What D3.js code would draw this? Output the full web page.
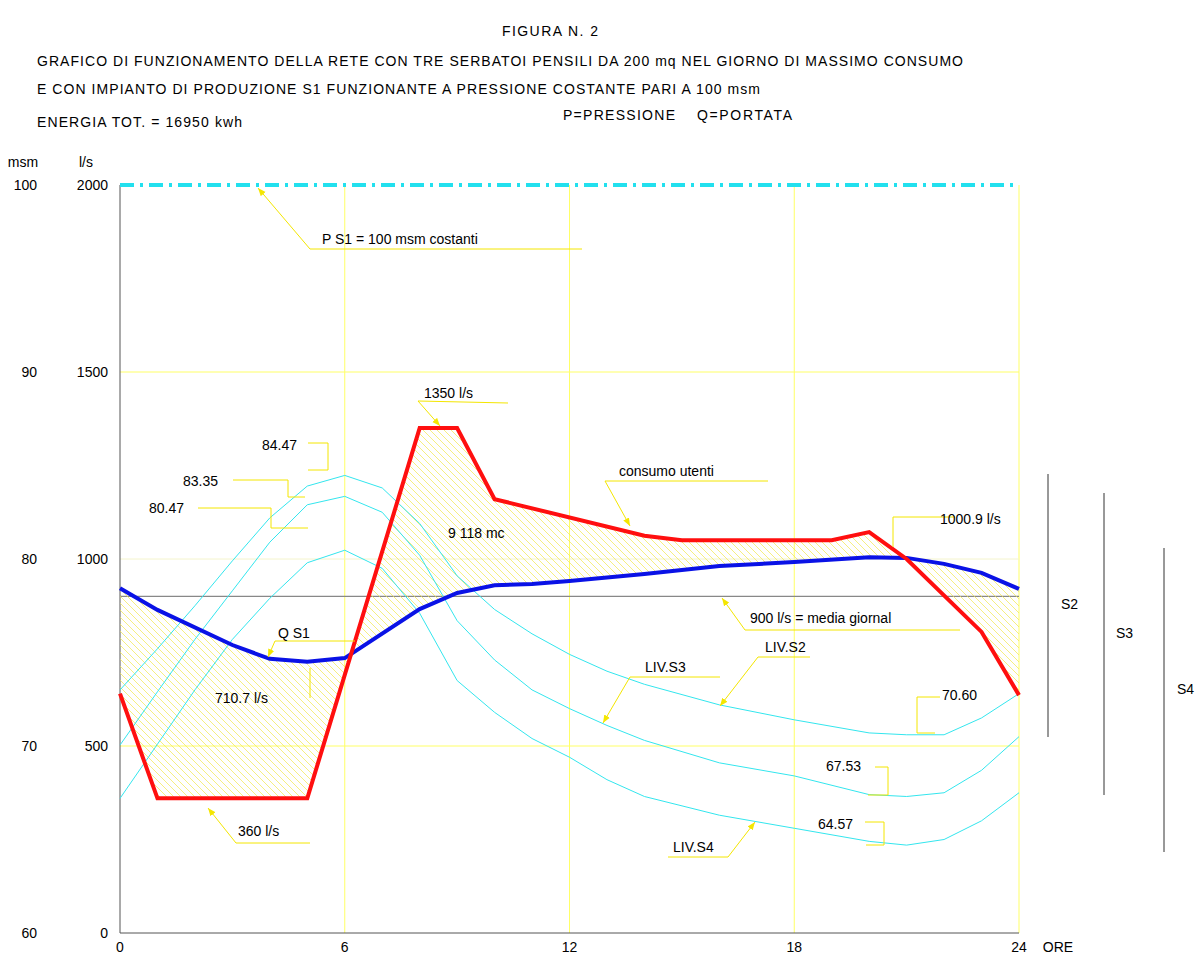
<!DOCTYPE html><html><head><meta charset="utf-8"><script src="https://cdn.jsdelivr.net/npm/d3@7"></script>
<style>body{margin:0;background:#fff}text{font-family:Arial,"Liberation Sans",sans-serif;font-size:14px}</style></head><body>
<svg id="c" width="1200" height="979"></svg>
<script>
const hoursRed=[0,1,5,8,9,10,14,15,19,20,21,23,24];
const consumo=[640,360,360,1350,1350,1160,1062,1050,1050,1072,1000,805,636];
const hoursQ=[0,1,3,4,5,6,8,9,10,11,12,14,16,18,20,21,22,23,24];
const qs1=[922,864,770,733,725,735,866,909,930,933,941,960,981,992,1005,1003,987,963,920];
const hoursL=[0,1,2,3,4,5,6,7,8,9,10,11,12,13,14,16,18,20,21,22,23,24];
const livS2=[73.0,75.2,77.5,79.9,82.2,83.9,84.47,83.8,81.9,79.1,77.3,76.0,74.9,74.0,73.3,72.2,71.4,70.7,70.6,70.6,71.5,72.8];
const livS3=[70.05,72.9,75.7,78.3,80.9,82.9,83.35,82.5,80.2,76.7,74.6,73.0,72.0,71.1,70.3,69.1,68.4,67.4,67.3,67.5,68.7,70.5];
const livS4=[67.2,70.1,73.0,75.7,77.9,79.8,80.47,79.5,77.1,73.5,71.8,70.4,69.4,68.2,67.3,66.3,65.6,64.9,64.7,65.0,66.0,67.5];
const xTicks=[0,6,12,18,24], qTicks=[0,500,1000,1500,2000], pTicks=[60,70,80,90,100];

const svg=d3.select("#c");
const x=d3.scaleLinear().domain([0,24]).range([120,1019]);
const yQ=d3.scaleLinear().domain([0,2000]).range([933,185]);
const yP=d3.scaleLinear().domain([60,100]).range([933,185]);
const defs=svg.append("defs");
const pat=defs.append("pattern").attr("id","h").attr("patternUnits","userSpaceOnUse").attr("width",7).attr("height",7);
pat.append("path").attr("d","M-1,-1L8,8M-8,0L0,8M0,-7L7,0").attr("stroke","#f2e84a").attr("stroke-width",0.7);
defs.append("marker").attr("id","ar").attr("viewBox","0 0 10 10").attr("refX",10).attr("refY",5).attr("markerWidth",8).attr("markerHeight",8).attr("orient","auto-start-reverse")
 .append("path").attr("d","M0,1L10,5L0,9z").attr("fill","#f4e600");

xTicks.slice(1).forEach(h=>svg.append("line").attr("x1",x(h)).attr("x2",x(h)).attr("y1",185).attr("y2",933).attr("stroke","#ffff66"));
[500,1500].forEach(v=>svg.append("line").attr("x1",120).attr("x2",1019).attr("y1",yQ(v)).attr("y2",yQ(v)).attr("stroke","#ffff66"));
svg.append("line").attr("x1",120).attr("x2",1019).attr("y1",yQ(1000)).attr("y2",yQ(1000)).attr("stroke","#f4f4cc");
svg.append("line").attr("x1",120).attr("x2",1019).attr("y1",yQ(900)).attr("y2",yQ(900)).attr("stroke","#888").attr("stroke-width",1.3);
svg.append("line").attr("x1",120).attr("x2",120).attr("y1",185).attr("y2",933).attr("stroke","#555");
svg.append("line").attr("x1",120).attr("x2",1019).attr("y1",933).attr("y2",933).attr("stroke","#555");

const fine=d3.range(0,24.001,0.05);
const ir=h=>{for(let i=0;i<hoursRed.length-1;i++)if(h>=hoursRed[i]&&h<=hoursRed[i+1]){const t=(h-hoursRed[i])/(hoursRed[i+1]-hoursRed[i]);return consumo[i]+t*(consumo[i+1]-consumo[i]);}return consumo[consumo.length-1];};
const iq=h=>{for(let i=0;i<hoursQ.length-1;i++)if(h>=hoursQ[i]&&h<=hoursQ[i+1]){const t=(h-hoursQ[i])/(hoursQ[i+1]-hoursQ[i]);return qs1[i]+t*(qs1[i+1]-qs1[i]);}return qs1[qs1.length-1];};
svg.append("path").attr("d",d3.area().x(h=>x(h)).y0(h=>yQ(iq(h))).y1(h=>yQ(ir(h)))(fine)).attr("fill","url(#h)");

const lp=d3.line().x((d,i)=>x(hoursL[i])).y(d=>yP(d));
[livS2,livS3,livS4].forEach(s=>svg.append("path").attr("d",lp(s)).attr("fill","none").attr("stroke","#33e6ee").attr("stroke-width",1));
svg.append("line").attr("x1",120).attr("x2",1019).attr("y1",yP(100)).attr("y2",yP(100)).attr("stroke","#22e0ee").attr("stroke-width",4).attr("stroke-dasharray","14,6,3,6");
svg.append("path").attr("d",d3.line().x((d,i)=>x(hoursQ[i])).y(d=>yQ(d))(qs1)).attr("fill","none").attr("stroke","#0a12e6").attr("stroke-width",4);
svg.append("path").attr("d",d3.line().x((d,i)=>x(hoursRed[i])).y(d=>yQ(d))(consumo)).attr("fill","none").attr("stroke","#ff0f0f").attr("stroke-width",4);

const T=(t,px,py,a)=>svg.append("text").attr("x",px).attr("y",py).attr("text-anchor",a||"start").text(t);
xTicks.forEach(h=>T(h,x(h),952,"middle"));
T("ORE",1058,952,"middle");
qTicks.forEach(v=>T(v,108,yQ(v)+5,"end"));
pTicks.forEach(v=>T(v,37,yP(v)+5,"end"));
T("msm",23,167,"middle");T("l/s",86,167,"middle");
T("FIGURA N. 2",550,36,"middle").attr("textLength",96);
T("GRAFICO DI FUNZIONAMENTO DELLA RETE CON TRE SERBATOI PENSILI DA 200 mq NEL GIORNO DI MASSIMO CONSUMO",37,66).attr("textLength",926);
T("E CON IMPIANTO DI PRODUZIONE S1 FUNZIONANTE A PRESSIONE COSTANTE PARI A 100 msm",37,94).attr("textLength",723);
T("ENERGIA TOT. = 16950 kwh",37,127).attr("textLength",205);
T("P=PRESSIONE",563,120).attr("textLength",112);
T("Q=PORTATA",697,120).attr("textLength",95);

const Y="#f4e600";
const L=(pts,arrow)=>{const p=svg.append("path").attr("d",d3.line()(pts)).attr("fill","none").attr("stroke",Y).attr("stroke-width",1);if(arrow)p.attr("marker-end","url(#ar)");};
L([[582,249],[310,249],[258,188]],true);T("P S1 = 100 msm costanti",322,244);
L([[508,403],[418,401],[440,426]],true);T("1350 l/s",424,398);
L([[768,481],[605,481],[630,526]],true);T("consumo utenti",619,476);
T("9 118 mc",448,538);
L([[955,517],[893,517],[893,547]],false);T("1000.9 l/s",940,524);
L([[960,630],[745,630],[722,598]],true);T("900 l/s = media giornal",750,623);
L([[355,641],[275,641],[268,657]],true);T("Q S1",278,638);
L([[310,698],[310,668]],false);T("710.7 l/s",215,703);
L([[310,843],[236,843],[208,808]],true);T("360 l/s",238,836);
L([[308,443],[328,443],[328,470],[308,470]],false);T("84.47",262,450);
L([[233,480],[288,480],[288,497],[305,497]],false);T("83.35",183,486);
L([[198,508],[271,508],[271,528],[308,528]],false);T("80.47",149,513);
L([[720,677],[630,677],[603,723]],true);T("LIV.S3",645,672);
L([[810,657],[758,657],[720,706]],true);T("LIV.S2",765,652);
L([[940,697],[917,697],[917,733],[935,733]],false);T("70.60",942,700);
L([[875,767],[888,767],[888,795],[868,795]],false);T("67.53",826,771);
L([[865,822],[884,822],[884,845],[866,845]],false);T("64.57",818,829);
L([[668,857],[728,857],[755,822]],true);T("LIV.S4",673,852);

[[1048,474,737,"S2",1061,609],[1104,493,795,"S3",1116,638],[1164,548,852,"S4",1177,694]].forEach(b=>{
 svg.append("line").attr("x1",b[0]).attr("x2",b[0]).attr("y1",b[1]).attr("y2",b[2]).attr("stroke","#333");T(b[3],b[4],b[5]);});
</script></body></html>
